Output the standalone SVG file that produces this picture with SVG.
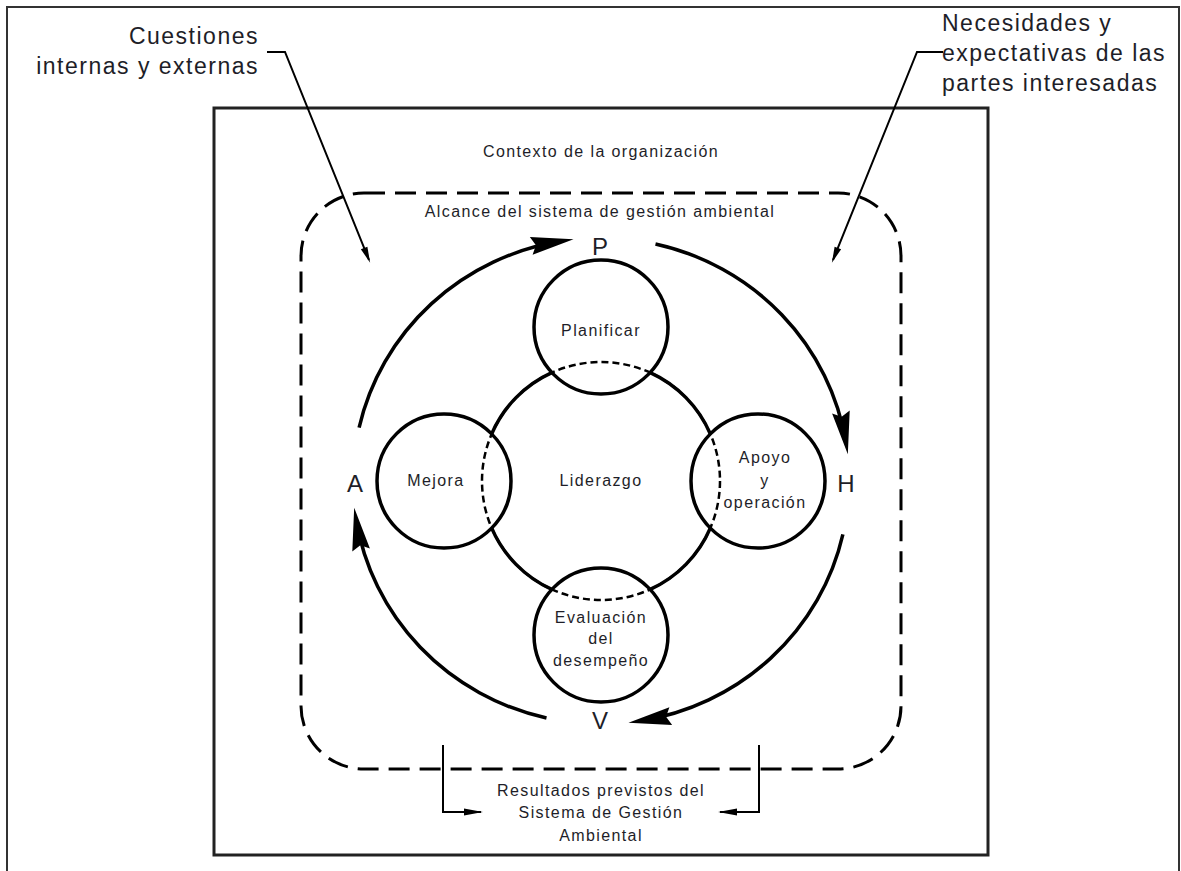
<svg xmlns="http://www.w3.org/2000/svg" width="1181" height="871" viewBox="0 0 1181 871">
<style>
.t{font-family:"Liberation Sans",Arial,sans-serif;fill:#1e1e28}
.s{font-size:16px;letter-spacing:1.4px;text-anchor:middle}
.b{font-size:23px;letter-spacing:1.5px}
.l{font-size:24px;text-anchor:middle}
.ring{fill:none;stroke:#000;stroke-width:3.5}
.arc{fill:none;stroke:#000;stroke-width:3.5;marker-end:url(#big)}
.lead{fill:none;stroke:#000;stroke-width:2}
</style>
<defs>
<marker id="big" markerUnits="userSpaceOnUse" markerWidth="50" markerHeight="24" viewBox="-30 -10 42 20" refX="0" refY="0" orient="auto">
<path d="M10,0 L-26,-7.5 L-22,0 L-26,7.5 Z" fill="#000"/>
</marker>
<marker id="sm" markerUnits="userSpaceOnUse" markerWidth="24" markerHeight="12" viewBox="-16 -6 22 12" refX="0" refY="0" orient="auto">
<path d="M3,0 L-13,-3.5 L-13,3.5 Z" fill="#000"/>
</marker>
<marker id="br" markerUnits="userSpaceOnUse" markerWidth="28" markerHeight="12" viewBox="-20 -6 26 12" refX="0" refY="0" orient="auto">
<path d="M2,0 L-17,-3.5 L-17,3.5 Z" fill="#000"/>
</marker>
</defs>

<g id="frame">
<path d="M7,871 V7 H1179 V871" fill="none" stroke="#333" stroke-width="2"/>
</g>

<g id="contexto">
<rect x="214" y="108" width="774" height="747" fill="none" stroke="#222" stroke-width="3"/>
<text class="t s" x="601" y="157">Contexto de la organización</text>
</g>

<g id="alcance">
<rect x="301" y="193" width="600" height="576" rx="63" ry="63" fill="none" stroke="#000" stroke-width="3" stroke-dasharray="21 10"/>
<text class="t s" x="600" y="217">Alcance del sistema de gestión ambiental</text>
</g>

<g id="cuestiones">
<text class="t b" x="259" y="44" text-anchor="end">Cuestiones</text>
<text class="t b" x="259" y="74" text-anchor="end">internas y externas</text>
</g>

<g id="necesidades">
<text class="t b" x="942" y="31">Necesidades y</text>
<text class="t b" x="942" y="61">expectativas de las</text>
<text class="t b" x="942" y="91">partes interesadas</text>
</g>

<g id="resultados">
<text class="t s" x="601" y="796">Resultados previstos del</text>
<text class="t s" x="601" y="818">Sistema de Gestión</text>
<text class="t s" x="601" y="841">Ambiental</text>
</g>

<g id="liderazgo">
<circle cx="601" cy="481" r="119" fill="none" stroke="#000" stroke-width="2.5" stroke-dasharray="7 4"/>
<path class="ring" d="M710.3,528.1 A119,119 0 0 1 650.2,589.4 M551.8,589.4 A119,119 0 0 1 491.7,528.1 M491.7,433.9 A119,119 0 0 1 551.8,372.6 M650.2,372.6 A119,119 0 0 1 710.3,433.9"/>
<text class="t s" x="601" y="486">Liderazgo</text>
</g>

<g id="planificar">
<circle class="ring" cx="601" cy="327" r="67"/>
<text class="t s" x="601" y="336">Planificar</text>
</g>

<g id="mejora">
<circle class="ring" cx="444" cy="481" r="67"/>
<text class="t s" x="436" y="486">Mejora</text>
</g>

<g id="apoyo">
<circle class="ring" cx="758" cy="481" r="67"/>
<text class="t s" x="765" y="463">Apoyo</text>
<text class="t s" x="765" y="486">y</text>
<text class="t s" x="765" y="508">operación</text>
</g>

<g id="evaluacion">
<circle class="ring" cx="601" cy="635" r="67"/>
<text class="t s" x="601" y="623">Evaluación</text>
<text class="t s" x="601" y="644">del</text>
<text class="t s" x="601" y="666">desempeño</text>
</g>

<g id="pdca">
<text class="t l" x="600" y="255">P</text>
<text class="t l" x="846" y="492">H</text>
<text class="t l" x="600" y="729">V</text>
<text class="t l" x="355" y="492">A</text>
</g>

<g id="connectors">
<path class="arc" d="M359.1,427.6 A248,243 0 0 1 561.8,241.1"/>
<path class="arc" d="M655.5,244.0 A248,243 0 0 1 845.9,442.6"/>
<path class="arc" d="M842.9,534.4 A248,243 0 0 1 640.2,720.9"/>
<path class="arc" d="M546.5,718.0 A248,243 0 0 1 356.1,519.4"/>
<path class="lead" d="M267,52 H285 L369,260" marker-end="url(#sm)"/>
<path class="lead" d="M943,52 H917 L833,260" marker-end="url(#sm)"/>
<path class="lead" d="M443,745 V812 H481" stroke-width="2.5" marker-end="url(#br)"/>
<path class="lead" d="M759,745 V812 H720" stroke-width="2.5" marker-end="url(#br)"/>
</g>
</svg>
